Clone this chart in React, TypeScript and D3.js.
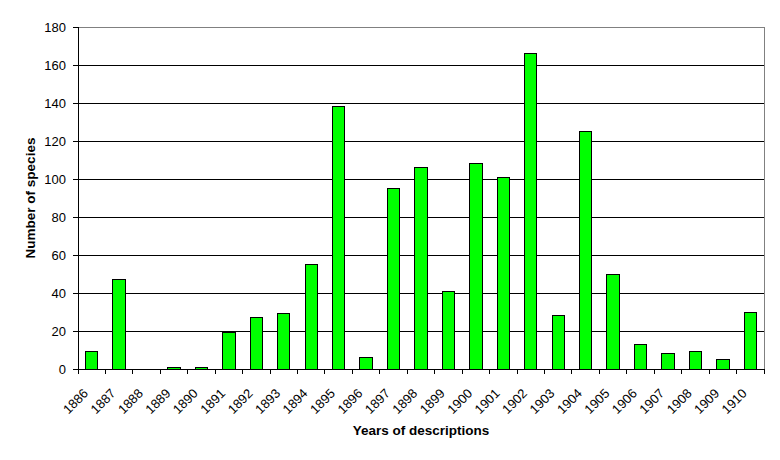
import { useEffect, useRef } from "react";
import * as d3 from "d3";

const years = [
  "1886", "1887", "1888", "1889", "1890", "1891", "1892", "1893", "1894", "1895",
  "1896", "1897", "1898", "1899", "1900", "1901", "1902", "1903", "1904", "1905",
  "1906", "1907", "1908", "1909", "1910",
];
const species = [
  9, 47, 0, 1, 1, 19, 27, 29, 55, 138,
  6, 95, 106, 41, 108, 101, 166, 28, 125, 50,
  13, 8, 9, 5, 30,
];
const yTicks = [0, 20, 40, 60, 80, 100, 120, 140, 160, 180];

const width = 780;
const height = 460;
const fontFace = "'Liberation Sans', Arial, sans-serif";
const barColor = "#00FF00";

const App = () => {
  const svgRef = useRef<SVGSVGElement | null>(null);

  useEffect(() => {
    const svg = d3.select(svgRef.current);
    svg.selectAll("*").remove();

    const left = 78, right = 764, top = 27, bottom = 369;

    const x = d3.scaleBand<string>().domain(years).range([left, right]).paddingInner(0.55).paddingOuter(0.275);
    const xEdges = d3.scaleLinear().domain([0, years.length]).range([left, right]);
    const y = d3.scaleLinear().domain([0, 180]).range([bottom, top]);

    // gridlines
    svg.append("g")
      .selectAll("line")
      .data(yTicks.filter(t => t > 0 && t < 180))
      .enter()
      .append("line")
      .attr("x1", left).attr("x2", right)
      .attr("y1", d => y(d)).attr("y2", d => y(d))
      .attr("stroke", "#000").attr("stroke-width", 1)
      .attr("shape-rendering", "crispEdges");

    // gray frame top/right
    svg.append("path")
      .attr("d", `M${left},${top}H${right}V${bottom}`)
      .attr("fill", "none")
      .attr("stroke", "#808080")
      .attr("shape-rendering", "crispEdges");

    // bars
    svg.append("g")
      .selectAll("rect")
      .data(species)
      .enter()
      .append("rect")
      .attr("x", (_, i) => x(years[i]) as number)
      .attr("y", d => y(d))
      .attr("width", x.bandwidth())
      .attr("height", d => bottom - y(d))
      .attr("fill", barColor)
      .attr("stroke", "#000")
      .attr("stroke-width", 1)
      .attr("shape-rendering", "crispEdges");

    // y axis
    svg.append("line")
      .attr("x1", left).attr("x2", left).attr("y1", top).attr("y2", bottom)
      .attr("stroke", "#000").attr("shape-rendering", "crispEdges");
    const yAxis = svg.append("g");
    yAxis.selectAll("line")
      .data(yTicks)
      .enter()
      .append("line")
      .attr("x1", left - 5).attr("x2", left)
      .attr("y1", d => y(d)).attr("y2", d => y(d))
      .attr("stroke", "#000").attr("shape-rendering", "crispEdges");
    yAxis.selectAll("text")
      .data(yTicks)
      .enter()
      .append("text")
      .attr("x", left - 12)
      .attr("y", d => y(d))
      .attr("dy", "0.36em")
      .attr("text-anchor", "end")
      .style("font", `13px ${fontFace}`)
      .text(d => d);

    // x axis
    svg.append("line")
      .attr("x1", left).attr("x2", right).attr("y1", bottom).attr("y2", bottom)
      .attr("stroke", "#000").attr("shape-rendering", "crispEdges");
    svg.append("g")
      .selectAll("line")
      .data(d3.range(years.length + 1))
      .enter()
      .append("line")
      .attr("x1", d => xEdges(d)).attr("x2", d => xEdges(d))
      .attr("y1", bottom).attr("y2", bottom + 5)
      .attr("stroke", "#000").attr("shape-rendering", "crispEdges");
    svg.append("g")
      .selectAll("text")
      .data(years)
      .enter()
      .append("text")
      .attr("transform", d => `translate(${(x(d) as number) + x.bandwidth() / 2 - 6},${bottom + 22}) rotate(-45)`)
      .attr("dy", "0.35em")
      .attr("text-anchor", "end")
      .style("font", `13px ${fontFace}`)
      .text(d => d);

    // titles
    svg.append("text")
      .attr("x", (left + right) / 2)
      .attr("y", 435)
      .attr("text-anchor", "middle")
      .style("font", `bold 13.5px ${fontFace}`)
      .text("Years of descriptions");
    svg.append("text")
      .attr("transform", `translate(35,${(top + bottom) / 2}) rotate(-90)`)
      .attr("text-anchor", "middle")
      .style("font", `bold 13.5px ${fontFace}`)
      .text("Number of species");
  }, []);

  return (
    <svg
      ref={svgRef}
      width={width}
      height={height}
      style={{ position: "absolute", left: 0, top: 0, background: "#fff" }}
    />
  );
};

export default App;
